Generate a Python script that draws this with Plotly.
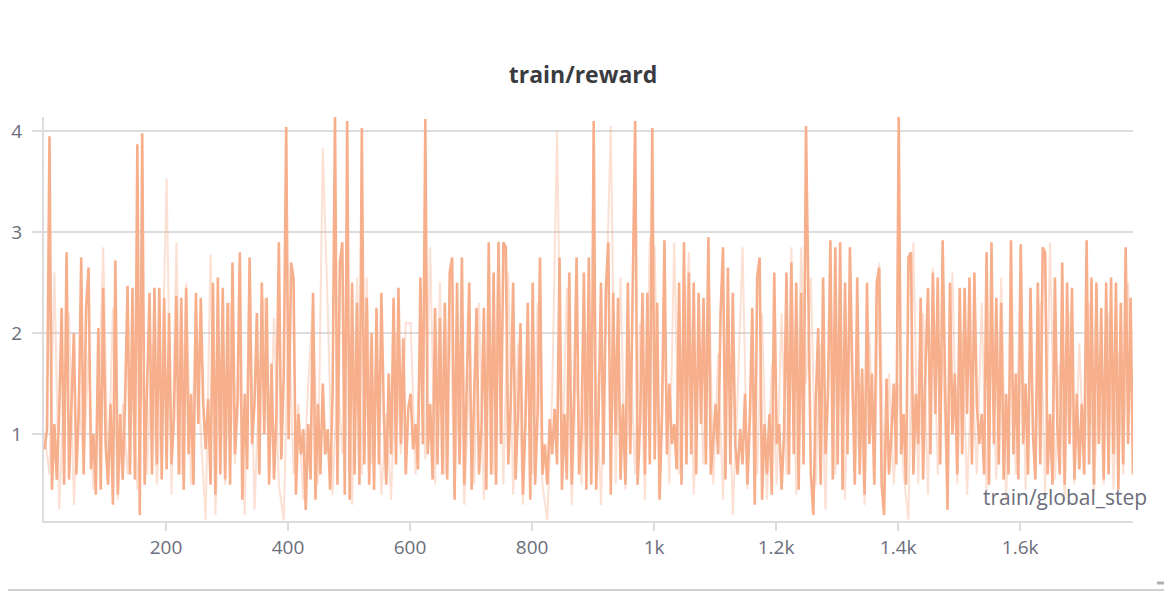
import plotly.graph_objects as go

# ---------------- data ----------------
# main run: one value every 4 steps, starting at step 1
reward_main = [
    # 1-97
    0.85, 1.05, 3.95, 0.45, 1.1, 0.55, 1.25, 2.25, 0.5, 2.8, 0.55, 1.3, 2.0, 0.6, 1.2, 2.75, 0.6, 2.25, 2.65, 0.65, 1.0, 0.4, 2.05, 0.45, 2.45,
    # 101-197
    0.9, 0.5, 1.3, 0.3, 2.72, 0.4, 1.2, 0.55, 1.35, 2.47, 0.6, 2.45, 0.55, 3.87, 0.2, 3.98, 0.5, 1.4, 2.4, 0.6, 2.45, 0.7, 2.45, 0.55, 2.35,
    # 201-297
    0.65, 2.2, 0.7, 1.15, 2.37, 0.6, 2.35, 0.45, 2.45, 0.8, 1.4, 0.5, 2.4, 1.1, 2.35, 1.3, 0.85, 1.35, 0.5, 2.5, 0.4, 2.55, 0.6, 2.45, 0.55,
    # 301-397
    2.3, 0.5, 2.7, 0.8, 1.3, 2.8, 0.35, 1.4, 0.65, 2.75, 0.9, 1.3, 2.2, 0.6, 2.5, 1.0, 2.35, 0.5, 1.7, 0.55, 1.2, 2.9, 0.75, 1.6, 4.04,
    # 401-497
    0.95, 2.7, 2.55, 0.4, 1.2, 0.8, 1.05, 0.25, 1.1, 0.55, 2.4, 0.35, 1.3, 0.6, 1.5, 0.8, 1.05, 0.45, 1.4, 4.15, 0.5, 2.7, 2.9, 0.4, 4.1,
    # 501-597
    0.35, 2.5, 0.6, 2.3, 0.5, 4.03, 0.7, 2.35, 0.5, 2.0, 0.45, 2.25, 0.7, 2.4, 1.2, 0.5, 1.6, 0.8, 2.35, 0.7, 2.45, 0.9, 1.95, 0.6, 1.25,
    # 601-697
    1.4, 0.85, 1.1, 0.65, 2.55, 0.9, 4.12, 0.8, 1.3, 0.55, 2.25, 0.7, 2.15, 0.6, 2.3, 0.55, 2.6, 2.75, 0.35, 2.5, 0.7, 2.75, 0.5, 1.5, 2.5,
    # 701-797
    0.45, 1.3, 2.25, 0.6, 1.05, 2.25, 0.45, 2.9, 0.6, 2.6, 0.5, 2.9, 0.9, 2.9, 2.85, 0.7, 1.3, 2.5, 0.55, 1.2, 2.1, 0.4, 1.1, 2.3, 0.35,
    # 801-897
    2.5, 0.5, 1.2, 2.75, 0.6, 0.9, 0.5, 1.15, 0.8, 1.25, 0.7, 2.75, 0.45, 1.2, 0.55, 2.6, 0.5, 1.4, 2.75, 0.6, 1.0, 2.6, 0.45, 2.75, 0.5,
    # 901-997
    4.1, 0.45, 1.2, 2.5, 0.7, 2.45, 2.9, 0.4, 2.4, 1.0, 2.35, 0.55, 1.3, 0.5, 2.5, 0.8, 2.55, 4.1, 0.5, 1.1, 2.4, 0.6, 2.4, 0.7, 4.03,
    # 1001-1097
    0.75, 2.3, 0.35, 1.2, 2.92, 0.8, 1.5, 0.9, 1.1, 0.65, 2.5, 0.5, 2.9, 0.7, 2.6, 0.8, 2.5, 0.6, 2.4, 1.1, 2.35, 0.7, 2.95, 0.6, 1.0,
    # 1101-1197
    1.3, 0.8, 2.2, 2.85, 0.55, 2.65, 0.7, 2.4, 0.9, 0.6, 1.05, 0.7, 1.4, 0.5, 1.2, 2.25, 0.3, 2.55, 2.75, 0.35, 1.1, 0.6, 1.2, 0.4, 2.6,
    # 1201-1297
    0.9, 1.1, 0.45, 1.0, 2.6, 0.6, 2.7, 0.8, 2.5, 0.45, 2.4, 0.7, 4.05, 2.55, 0.6, 0.2, 1.3, 2.05, 0.5, 2.55, 0.8, 1.4, 2.92, 0.55, 2.85,
    # 1301-1397
    0.7, 2.9, 0.45, 2.5, 0.8, 2.85, 1.6, 0.5, 2.55, 0.6, 1.65, 0.4, 2.5, 0.9, 1.6, 0.5, 2.5, 2.65, 0.5, 0.2, 1.55, 0.6, 1.0, 1.5, 0.7,
    # 1401-1497
    4.15, 0.8, 1.2, 0.5, 2.75, 2.8, 0.6, 1.4, 0.9, 2.35, 0.55, 1.7, 2.45, 0.8, 2.6, 1.2, 2.55, 0.7, 2.92, 1.5, 0.25, 2.5, 1.0, 1.6, 0.6,
    # 1501-1597
    2.45, 0.8, 2.45, 1.2, 2.55, 0.7, 2.6, 1.3, 0.9, 1.2, 0.6, 2.8, 0.5, 2.9, 0.9, 2.35, 0.7, 2.3, 0.55, 1.4, 0.6, 2.92, 0.8, 1.6, 0.55,
    # 1601-1697
    2.88, 0.9, 1.5, 0.6, 2.45, 1.0, 0.55, 2.5, 0.7, 2.85, 2.8, 0.6, 1.2, 0.5, 2.55, 1.1, 0.6, 2.7, 0.5, 2.5, 0.9, 2.45, 0.55, 1.4, 0.65,
    # 1701-1785
    1.3, 0.6, 2.92, 0.7, 2.55, 0.5, 2.5, 0.9, 2.25, 0.55, 2.5, 0.6, 2.55, 0.8, 2.5, 0.45, 2.3, 0.7, 2.85, 0.9, 2.35, 0.6,
]

# faint run: one value every 8 steps, starting at step 1
reward_faint = [
    1.0, 0.6, 2.6, 0.25, 1.5, 2.2, 0.3, 1.4, 0.7, 1.8, 0.45, 1.2, 2.85, 0.5, 2.25, 0.35, 1.3, 0.6, 1.5, 0.45, 1.6, 0.6, 1.9, 0.5, 1.4,
    3.53, 0.4, 2.9, 0.6, 2.5, 0.5, 2.25, 1.0, 0.15, 2.78, 0.2, 1.8, 0.5, 2.3, 0.7, 1.6, 0.2, 2.7, 0.25, 1.5, 2.35, 0.6, 2.15, 0.5, 0.15,
    2.2, 0.6, 1.3, 0.35, 1.5, 2.3, 0.5, 3.83, 2.25, 0.4, 1.6, 0.8, 2.4, 0.3, 2.55, 0.6, 2.55, 0.7, 1.8, 0.4, 1.2, 0.35, 2.0, 0.8, 2.1,
    2.1, 0.6, 2.0, 0.75, 2.85, 0.5, 2.5, 0.6, 2.5, 0.45, 1.9, 0.3, 1.6, 0.5, 2.3, 0.35, 1.8, 0.6, 2.92, 0.5, 2.6, 0.4, 1.9, 0.3, 2.0,
    0.6, 2.3, 0.5, 0.15, 1.4, 4.0, 0.6, 2.45, 0.3, 1.7, 0.5, 2.0, 0.55, 1.6, 0.3, 2.2, 4.05, 0.5, 2.55, 0.45, 1.8, 0.6, 2.1, 0.35, 2.95,
    2.85, 0.45, 2.0, 0.5, 2.9, 0.6, 1.5, 2.8, 0.4, 1.9, 0.7, 2.85, 0.5, 1.8, 0.35, 2.1, 0.2, 1.4, 2.85, 0.45, 1.6, 0.6, 2.2, 0.35, 1.7,
    0.5, 2.2, 0.6, 2.85, 0.4, 2.85, 1.5, 2.55, 0.5, 1.9, 0.25, 2.6, 0.6, 1.7, 0.35, 2.2, 0.6, 1.5, 0.3, 2.0, 0.5, 2.7, 0.4, 1.6, 0.5,
    1.5, 0.6, 0.15, 2.9, 0.5, 2.2, 0.4, 2.65, 0.6, 1.8, 0.35, 2.6, 0.5, 2.0, 0.4, 1.7, 0.6, 2.3, 0.45, 1.9, 0.55, 2.55, 0.35, 1.8, 0.6,
    2.85, 0.45, 1.9, 0.6, 2.3, 0.4, 2.9, 0.55, 1.7, 0.35, 2.2, 0.5, 1.9, 0.6, 2.3, 0.4, 1.6, 0.5, 2.2, 0.45, 1.8, 0.6, 2.5, 0.8,
]

steps_main = [1 + 4 * i for i in range(len(reward_main))]
steps_faint = [1 + 8 * i for i in range(len(reward_faint))]

x_tick_vals = [200, 400, 600, 800, 1000, 1200, 1400, 1600]
x_tick_text = ["200", "400", "600", "800", "1k", "1.2k", "1.4k", "1.6k"]
y_tick_vals = [1, 2, 3, 4]
y_tick_text = ["1", "2", "3", "4"]

LINE = "#F7AE8B"
GRID = "#DCDCDE"
TXT = "#6B6E7A"
FONT = "Open Sans"

# page body adds an 8px offset; the figure is sized to fill the rest
OFF = 8
W, H = 1172 - OFF, 592 - OFF
L, R, T, B = 44 - OFF, 1172 - 1133, 117 - OFF, 592 - 521
PW, PH = W - L - R, H - T - B

fig = go.Figure()
fig.add_trace(go.Scatter(
    x=steps_faint, y=reward_faint, mode="lines",
    line=dict(color="rgba(247,174,139,0.38)", width=2),
    hoverinfo="skip", showlegend=False,
))
fig.add_trace(go.Scatter(
    x=steps_main, y=reward_main, mode="lines",
    line=dict(color=LINE, width=2.6),
    showlegend=False,
))

fig.update_layout(
    width=W, height=H,
    margin=dict(l=L, r=R, t=T, b=B, autoexpand=False),
    paper_bgcolor="white", plot_bgcolor="white",
    title=dict(text="<b>train/reward</b>", x=(583 - OFF) / W, xanchor="center",
               y=1 - (75 - OFF) / H, yanchor="middle",
               font=dict(family=FONT, size=23, color="#3A3B40")),
    font=dict(family=FONT, color=TXT),
    showlegend=False,
)
fig.update_xaxes(
    range=[0, 1785], tickvals=x_tick_vals, ticktext=x_tick_text,
    showgrid=False, zeroline=False, automargin=False,
    showline=True, linecolor=GRID, linewidth=2,
    ticks="outside", ticklen=8, tickcolor=GRID, tickwidth=2,
    tickfont=dict(family=FONT, size=19, color=TXT),
)
fig.update_yaxes(
    range=[0.14, 4.14], tickvals=y_tick_vals, ticktext=y_tick_text,
    showgrid=True, gridcolor=GRID, gridwidth=2, zeroline=False, automargin=False,
    showline=True, linecolor=GRID, linewidth=2,
    ticks="outside", ticklen=10, tickcolor=GRID, tickwidth=2,
    ticklabelstandoff=6,
    tickfont=dict(family=FONT, size=19, color=TXT),
)

fig.add_annotation(
    text="train/global_step", xref="paper", yref="paper",
    x=(1149 - 44) / PW, y=(521 - 497) / PH,
    xanchor="right", yanchor="middle", showarrow=False,
    font=dict(family=FONT, size=21, color=TXT),
)

# card border and resize handle
fig.add_shape(type="line", xref="paper", yref="paper",
              x0=-44 / PW, x1=(1172 - 44) / PW,
              y0=-(590 - 521) / PH, y1=-(590 - 521) / PH,
              line=dict(color="#CFCFD2", width=2))
hx0, hx1 = (1157 - 44) / PW, (1168 - 44) / PW
hy0, hy1 = -(583 - 521) / PH, -(572 - 521) / PH
fig.add_shape(type="line", xref="paper", yref="paper",
              x0=hx0, x1=hx1, y0=hy0, y1=hy0,
              line=dict(color="#B0B0B4", width=3))
fig.add_shape(type="line", xref="paper", yref="paper",
              x0=hx1, x1=hx1, y0=hy0, y1=hy1,
              line=dict(color="#B0B0B4", width=3))

fig.write_html("out.html")
